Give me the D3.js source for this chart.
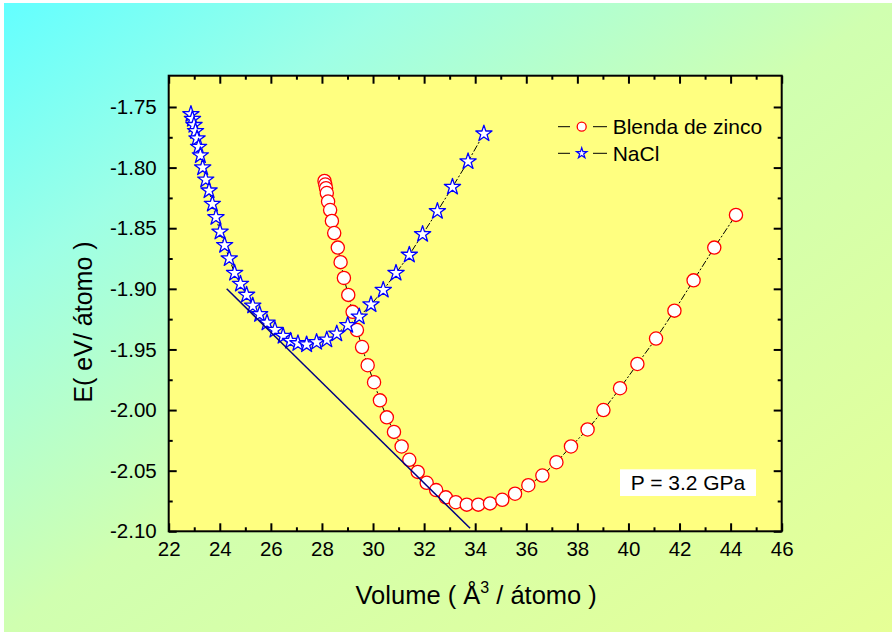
<!DOCTYPE html>
<html><head><meta charset="utf-8">
<script src="https://cdn.jsdelivr.net/npm/d3@7"></script>
<style>body{margin:0;background:#fff}svg{display:block}</style>
</head><body><svg id="c" width="896" height="635"></svg>
<script>
// ---- data ----
const zbVolume = [28.10, 28.13, 28.16, 28.19, 28.24, 28.32, 28.39, 28.48, 28.62, 28.73, 28.86, 29.03, 29.20, 29.37, 29.57, 29.79, 30.04, 30.27, 30.54, 30.82, 31.12, 31.42, 31.75, 32.10, 32.47, 32.85, 33.24, 33.67, 34.12, 34.58, 35.06, 35.56, 36.08, 36.63, 37.18, 37.75, 38.40, 39.02, 39.67, 40.35, 41.08, 41.80, 42.55, 43.36, 44.21];
const zbEnergy = [-1.811, -1.814, -1.817, -1.821, -1.828, -1.835, -1.844, -1.854, -1.866, -1.878, -1.891, -1.905, -1.919, -1.934, -1.948, -1.963, -1.977, -1.992, -2.006, -2.018, -2.030, -2.041, -2.051, -2.060, -2.066, -2.072, -2.076, -2.078, -2.078, -2.077, -2.074, -2.069, -2.062, -2.054, -2.043, -2.030, -2.016, -2.000, -1.982, -1.962, -1.941, -1.918, -1.893, -1.866, -1.839];
const naclVolume = [22.87, 22.93, 22.99, 23.05, 23.11, 23.17, 23.24, 23.33, 23.45, 23.58, 23.71, 23.85, 24.01, 24.19, 24.37, 24.58, 24.81, 25.05, 25.29, 25.56, 25.85, 26.16, 26.48, 26.77, 27.06, 27.40, 27.79, 28.19, 28.58, 29.01, 29.46, 29.92, 30.40, 30.90, 31.42, 31.94, 32.52, 33.11, 33.72, 34.34];
const naclEnergy = [-1.756, -1.760, -1.765, -1.770, -1.776, -1.783, -1.790, -1.800, -1.810, -1.819, -1.830, -1.841, -1.853, -1.864, -1.875, -1.887, -1.896, -1.905, -1.914, -1.921, -1.928, -1.934, -1.939, -1.943, -1.945, -1.946, -1.944, -1.942, -1.937, -1.930, -1.923, -1.913, -1.901, -1.887, -1.872, -1.855, -1.836, -1.816, -1.795, -1.772];
const tangentVolume = [24.27, 33.80];
const tangentEnergy = [-1.900, -2.0975];
const xTicks = [22, 24, 26, 28, 30, 32, 34, 36, 38, 40, 42, 44, 46];
const yTicks = [-2.10, -2.05, -2.00, -1.95, -1.90, -1.85, -1.80, -1.75];
const seriesNames = ["Blenda de zinco", "NaCl"];
const xTitle = "Volume ( Å";
const xTitleSup = "3";
const xTitleEnd = " / átomo )";
const yTitle = "E( eV/ átomo )";
const pressureLabel = "P = 3.2 GPa";

// ---- layout ----
const W = 896, H = 635;
const L = 168.7, R = 781.7, T = 75.7, B = 531.3;
const font = "'Liberation Sans', Arial, sans-serif";
const svg = d3.select("#c");

const defs = svg.append("defs");
const g = defs.append("linearGradient").attr("id", "bg").attr("x1", 0).attr("y1", 0).attr("x2", 1).attr("y2", 1);
[[0, "#63ffff"], [0.22, "#9dffe6"], [0.5, "#d0ffb0"], [1, "#e6ff96"]].forEach(([o, c]) =>
  g.append("stop").attr("offset", o).attr("stop-color", c));

svg.append("rect").attr("x", 4).attr("y", 3).attr("width", W - 8).attr("height", H - 6).attr("fill", "url(#bg)");

const x = d3.scaleLinear().domain([22, 46]).range([L, R]);
const y = d3.scaleLinear().domain([-2.10, -1.7242]).range([B, T]);

svg.append("rect").attr("x", L).attr("y", T).attr("width", R - L).attr("height", B - T).attr("fill", "#ffff80");

const plot = svg.append("g");

const zb = zbVolume.map((v, i) => [v, zbEnergy[i]]);
const nacl = naclVolume.map((v, i) => [v, naclEnergy[i]]);
const line = d3.line().x(d => x(d[0])).y(d => y(d[1]));

// Zinc blende
plot.append("path").datum(zb).attr("d", line).attr("fill", "none")
  .attr("stroke", "#000").attr("stroke-width", 1).attr("stroke-dasharray", "7,2,2,2");
plot.selectAll("circle.zb").data(zb).join("circle").attr("class", "zb")
  .attr("cx", d => x(d[0])).attr("cy", d => y(d[1])).attr("r", 6.6)
  .attr("fill", "#fff").attr("stroke", "#ff0000").attr("stroke-width", 1.3);

// NaCl
const star = d3.symbol().type(d3.symbolStar);
plot.append("path").datum(nacl).attr("d", line).attr("fill", "none")
  .attr("stroke", "#000").attr("stroke-width", 1).attr("stroke-dasharray", "7,2,2,2");
plot.selectAll("path.nacl").data(nacl).join("path").attr("class", "nacl")
  .attr("transform", d => `translate(${x(d[0])},${y(d[1])})`)
  .attr("d", star.size(82)())
  .attr("fill", "#fff").attr("stroke", "#0000ff").attr("stroke-width", 1.3).attr("stroke-linejoin", "round");

// tangent line
const tang = tangentVolume.map((v, i) => [v, tangentEnergy[i]]);
plot.append("path").datum(tang).attr("d", line).attr("fill", "none")
  .attr("stroke", "#000080").attr("stroke-width", 1.5);

// ---- axes ----
const xMinor = d3.range(23, 46, 2);
const yMinor = d3.range(-2.075, -1.74, 0.05);

function styleAxis(sel) {
  sel.select(".domain").remove();
  sel.selectAll(".tick line").attr("stroke", "#000").attr("stroke-width", 2);
  sel.selectAll("text").attr("font-family", font).attr("font-size", 20.5).attr("fill", "#000");
}

svg.append("g").attr("transform", `translate(0,${B})`)
  .call(d3.axisBottom(x).tickValues(xTicks).tickSize(-8).tickPadding(10.5).tickFormat(d => d)).call(styleAxis);
svg.append("g").attr("transform", `translate(0,${B})`)
  .call(d3.axisBottom(x).tickValues(xMinor).tickSize(-4).tickFormat("")).call(styleAxis);
svg.append("g").attr("transform", `translate(0,${T})`)
  .call(d3.axisTop(x).tickValues(xTicks).tickSize(-8).tickFormat("")).call(styleAxis);
svg.append("g").attr("transform", `translate(0,${T})`)
  .call(d3.axisTop(x).tickValues(xMinor).tickSize(-4).tickFormat("")).call(styleAxis);

svg.append("g").attr("transform", `translate(${L},0)`)
  .call(d3.axisLeft(y).tickValues(yTicks).tickSize(-8).tickPadding(12).tickFormat(d => d.toFixed(2))).call(styleAxis);
svg.append("g").attr("transform", `translate(${L},0)`)
  .call(d3.axisLeft(y).tickValues(yMinor).tickSize(-4).tickFormat("")).call(styleAxis);
svg.append("g").attr("transform", `translate(${R},0)`)
  .call(d3.axisRight(y).tickValues(yTicks).tickSize(-8).tickFormat("")).call(styleAxis);
svg.append("g").attr("transform", `translate(${R},0)`)
  .call(d3.axisRight(y).tickValues(yMinor).tickSize(-4).tickFormat("")).call(styleAxis);

svg.append("rect").attr("x", L).attr("y", T).attr("width", R - L).attr("height", B - T)
  .attr("fill", "none").attr("stroke", "#000").attr("stroke-width", 2);

// ---- titles ----
const xt = svg.append("text").attr("x", (L + R) / 2 + 1).attr("y", 604).attr("text-anchor", "middle")
  .attr("font-family", font).attr("font-size", 25.5).attr("fill", "#000");
xt.append("tspan").text(xTitle);
xt.append("tspan").attr("dy", -11).attr("font-size", 16).text(xTitleSup);
xt.append("tspan").attr("dy", 11).text(xTitleEnd);

svg.append("text").attr("transform", `translate(92,322) rotate(-90)`).attr("text-anchor", "middle")
  .attr("font-family", font).attr("font-size", 25).attr("fill", "#000").text(yTitle);

// ---- legend ----
const legY = [126.7, 153.3];
const leg = svg.append("g");
seriesNames.forEach((name, i) => {
  const ly = legY[i];
  leg.append("line").attr("x1", 558).attr("x2", 570).attr("y1", ly).attr("y2", ly).attr("stroke", "#000").attr("stroke-width", 1);
  leg.append("line").attr("x1", 593).attr("x2", 607).attr("y1", ly).attr("y2", ly).attr("stroke", "#000").attr("stroke-width", 1);
  if (i === 0) {
    leg.append("circle").attr("cx", 581.7).attr("cy", ly).attr("r", 4.5)
      .attr("fill", "#fff").attr("stroke", "#ff0000").attr("stroke-width", 1.3);
  } else {
    leg.append("path").attr("transform", `translate(581.7,${ly})`).attr("d", star.size(34)())
      .attr("fill", "#fff").attr("stroke", "#0000ff").attr("stroke-width", 1.2);
  }
  leg.append("text").attr("x", 612.7).attr("y", ly).attr("dy", "0.35em")
    .attr("font-family", font).attr("font-size", 21).attr("fill", "#000").text(name);
});

// ---- pressure box ----
svg.append("rect").attr("x", 620).attr("y", 469.3).attr("width", 136).attr("height", 26.7).attr("fill", "#fff");
svg.append("text").attr("x", 688).attr("y", 482.7).attr("dy", "0.35em").attr("text-anchor", "middle")
  .attr("font-family", font).attr("font-size", 21).attr("fill", "#000").text(pressureLabel);
</script></body></html>
